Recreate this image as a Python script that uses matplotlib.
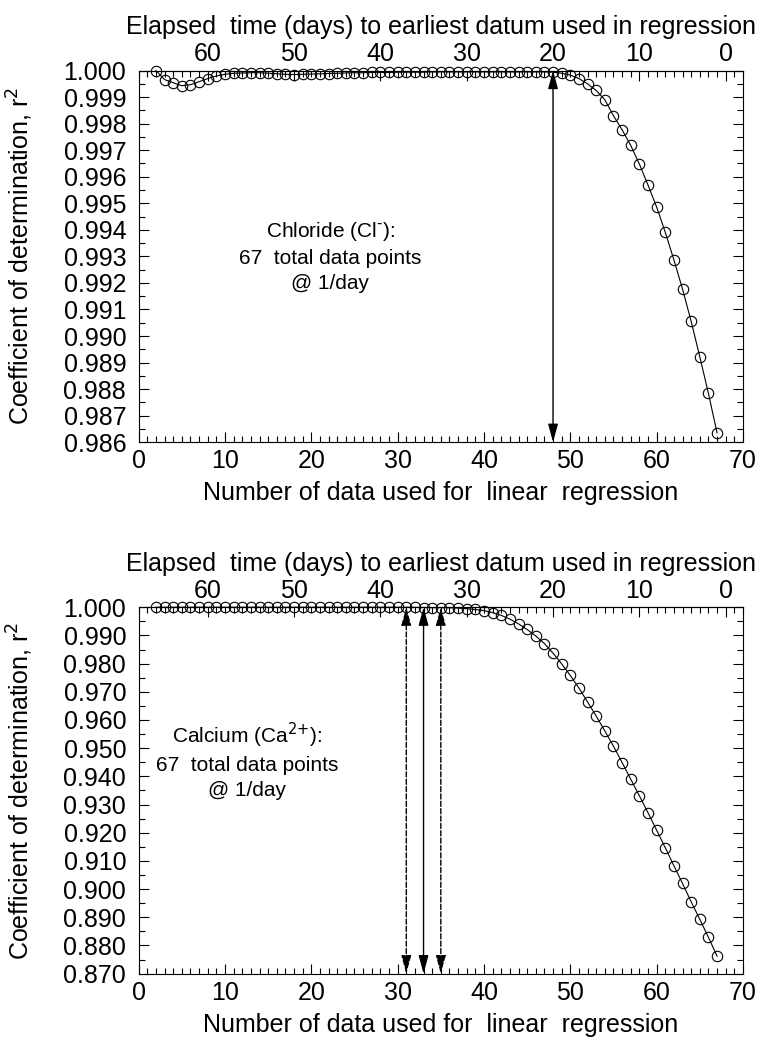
import matplotlib.pyplot as plt
from matplotlib.ticker import MultipleLocator, FormatStrFormatter

plt.rcParams['font.family'] = ['Liberation Sans', 'DejaVu Sans']

# --- DATA ---
n_points = list(range(2, 68))  # number of data used in the regression

r2_chloride = [
    1.00000, 0.99966, 0.99954, 0.99943, 0.99947, 0.99958, 0.99970, 0.99980,
    0.99986, 0.99990, 0.99991, 0.99992, 0.99992, 0.99990, 0.99988, 0.99986,
    0.99985, 0.99986, 0.99987, 0.99988, 0.99989, 0.99990, 0.99991, 0.99992,
    0.99992, 0.99993, 0.99993, 0.99993, 0.99994, 0.99994, 0.99994, 0.99994,
    0.99995, 0.99995, 0.99995, 0.99995, 0.99995, 0.99995, 0.99995, 0.99995,
    0.99995, 0.99995, 0.99995, 0.99995, 0.99995, 0.99995, 0.99994, 0.99990,
    0.99983, 0.99970, 0.99950, 0.99925, 0.99890, 0.99830, 0.99777, 0.99718,
    0.99648, 0.99569, 0.99486, 0.99391, 0.99287, 0.99177, 0.99055, 0.98922,
    0.98784, 0.98635,
]

r2_calcium = [
    1.0000, 1.0000, 1.0000, 1.0000, 1.0000, 1.0000, 1.0000, 1.0000,
    1.0000, 1.0000, 1.0000, 1.0000, 1.0000, 1.0000, 1.0000, 1.0000,
    1.0000, 1.0000, 1.0000, 1.0000, 1.0000, 1.0000, 1.0000, 1.0000,
    1.0000, 1.0000, 1.0000, 1.0000, 1.0000, 1.0000, 0.99995, 0.99990,
    0.99985, 0.99985, 0.99980, 0.99970, 0.99950, 0.99920, 0.9988, 0.9981,
    0.9971, 0.9958, 0.9941, 0.9921, 0.9898, 0.9871, 0.9837, 0.9799,
    0.9758, 0.9713, 0.9664, 0.9614, 0.9561, 0.9507, 0.9449, 0.9390,
    0.9331, 0.9271, 0.9209, 0.9147, 0.9083, 0.9020, 0.8955, 0.8893,
    0.8829, 0.8762,
]

chloride_arrows = [48]
calcium_arrows = [31, 33, 35]
calcium_styles = ['--', '-', '--']

chloride_text = 'Chloride (Cl$^{\\text{-}}$):\n67  total data points\n@ 1/day'
calcium_text = 'Calcium (Ca$^{\\text{2+}}$):\n67  total data points\n@ 1/day'

LAST_DAY = 68  # elapsed days = LAST_DAY - n
FS = 18
NOTE_FS = 15


def style_axes(ax, ymin, ymax, ymajor, yminor):
    ax.set_xlim(0, 70)
    ax.set_ylim(ymin, ymax)
    ax.xaxis.set_major_locator(MultipleLocator(10))
    ax.xaxis.set_minor_locator(MultipleLocator(1))
    ax.yaxis.set_major_locator(MultipleLocator(ymajor))
    ax.yaxis.set_minor_locator(MultipleLocator(yminor))
    ax.yaxis.set_major_formatter(FormatStrFormatter('%.3f'))
    ax.tick_params(which='both', direction='in', right=True, top=False,
                   labelsize=FS, width=0.8)
    ax.tick_params(which='major', length=7)
    ax.tick_params(which='minor', length=4)
    ax.tick_params(axis='x', which='major', pad=5)
    ax.tick_params(axis='y', which='major', pad=9)
    for s in ax.spines.values():
        s.set_linewidth(0.8)
    ax.set_xlabel('Number of data used for  linear  regression', fontsize=FS,
                  labelpad=6)
    ax.set_ylabel('Coefficient of determination, r$^2$', fontsize=FS)
    ax.yaxis.set_label_coords(-0.172, 0.5)

    sec = ax.secondary_xaxis('top', functions=(lambda n: LAST_DAY - n,
                                               lambda d: LAST_DAY - d))
    sec.set_xticks([60, 50, 40, 30, 20, 10, 0])
    sec.xaxis.set_minor_locator(MultipleLocator(1))
    sec.tick_params(which='both', direction='in', labelsize=FS, width=0.8)
    sec.tick_params(which='major', length=7, pad=3)
    sec.tick_params(which='minor', length=4)
    sec.set_xlabel('Elapsed  time (days) to earliest datum used in regression',
                   fontsize=FS, labelpad=6)


def draw_arrow(ax, x, y0, y1, ls='-'):
    ax.annotate('', xy=(x, y0), xytext=(x, y1),
                arrowprops=dict(arrowstyle='<|-|>,head_length=1.1,head_width=0.3',
                                color='black', lw=1.0, linestyle=ls,
                                shrinkA=0, shrinkB=0))


fig = plt.figure(figsize=(7.62, 10.38), dpi=100)
ax1 = fig.add_axes([0.182, 0.574, 0.793, 0.358])
ax2 = fig.add_axes([0.182, 0.062, 0.793, 0.353])

# --- Chloride ---
style_axes(ax1, 0.986, 1.000, 0.001, 0.0005)
ax1.plot(n_points, r2_chloride, color='black', lw=0.8, marker='o', ms=7.5,
         mfc='none', mec='black', mew=0.8, clip_on=False)
for x in chloride_arrows:
    draw_arrow(ax1, x, 0.986, 1.000)
ax1.text(22.2, 0.993, chloride_text, ha='center', va='center',
         fontsize=NOTE_FS, linespacing=1.4)

# --- Calcium ---
style_axes(ax2, 0.870, 1.000, 0.010, 0.005)
ax2.plot(n_points, r2_calcium, color='black', lw=0.8, marker='o', ms=7.5,
         mfc='none', mec='black', mew=0.8, clip_on=False)
for x, ls in zip(calcium_arrows, calcium_styles):
    draw_arrow(ax2, x, 0.870, 1.000, ls)
ax2.text(12.6, 0.9457, calcium_text, ha='center', va='center',
         fontsize=NOTE_FS, linespacing=1.4)

fig.savefig('out.png', dpi=100)
